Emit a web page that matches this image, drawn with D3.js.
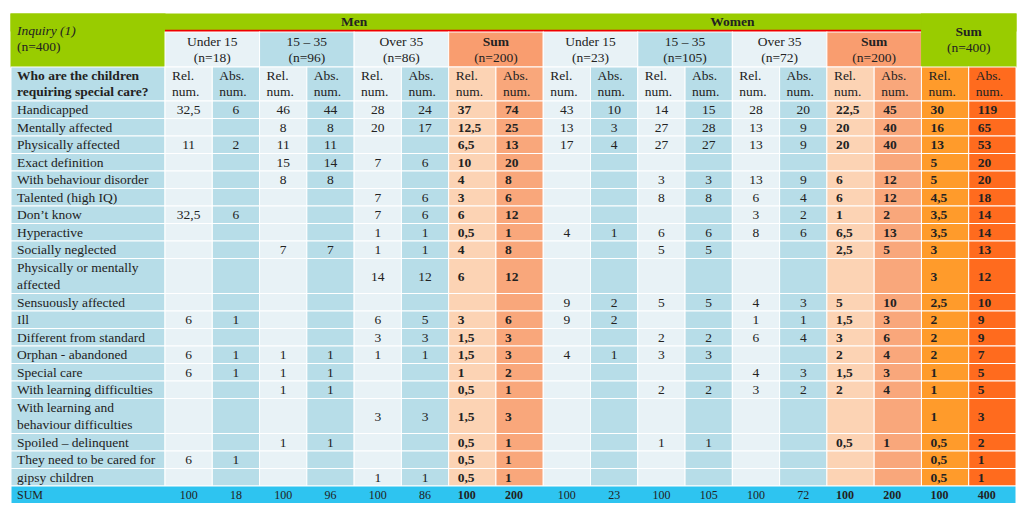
<!DOCTYPE html><html><head><meta charset="utf-8">
<script src="https://cdn.jsdelivr.net/npm/d3@7"></script>
<style>body{margin:0;background:#fff}</style></head><body><svg id="c" width="1024" height="515"></svg>
<script>
const groups = ["Under 15|(n=18)","15 – 35|(n=96)","Over 35|(n=86)","Sum|(n=200)","Under 15|(n=23)","15 – 35|(n=105)","Over 35|(n=72)","Sum|(n=200)","Sum|(n=400)"];
const genders = ["Men","Women"];
const rowLabels = ["Handicapped","Mentally affected","Physically affected","Exact definition","With behaviour disorder","Talented (high IQ)","Don’t know","Hyperactive","Socially neglected","Physically or mentally|affected","Sensuously affected","Ill","Different from standard","Orphan - abandoned","Special care","With learning difficulties","With learning and|behaviour difficulties","Spoiled – delinquent","They need to be cared for","gipsy children"];
const values = [
["32,5","6","46","44","28","24","37","74","43","10","14","15","28","20","22,5","45","30","119"],
["","","8","8","20","17","12,5","25","13","3","27","28","13","9","20","40","16","65"],
["11","2","11","11","","","6,5","13","17","4","27","27","13","9","20","40","13","53"],
["","","15","14","7","6","10","20","","","","","","","","","5","20"],
["","","8","8","","","4","8","","","3","3","13","9","6","12","5","20"],
["","","","","7","6","3","6","","","8","8","6","4","6","12","4,5","18"],
["32,5","6","","","7","6","6","12","","","","","3","2","1","2","3,5","14"],
["","","","","1","1","0,5","1","4","1","6","6","8","6","6,5","13","3,5","14"],
["","","7","7","1","1","4","8","","","5","5","","","2,5","5","3","13"],
["","","","","14","12","6","12","","","","","","","","","3","12"],
["","","","","","","","","9","2","5","5","4","3","5","10","2,5","10"],
["6","1","","","6","5","3","6","9","2","","","1","1","1,5","3","2","9"],
["","","","","3","3","1,5","3","","","2","2","6","4","3","6","2","9"],
["6","1","1","1","1","1","1,5","3","4","1","3","3","","","2","4","2","7"],
["6","1","1","1","","","1","2","","","","","4","3","1,5","3","1","5"],
["","","1","1","","","0,5","1","","","2","2","3","2","2","4","1","5"],
["","","","","3","3","1,5","3","","","","","","","","","1","3"],
["","","1","1","","","0,5","1","","","1","1","","","0,5","1","0,5","2"],
["6","1","","","","","0,5","1","","","","","","","","","0,5","1"],
["","","","","1","1","0,5","1","","","","","","","","","0,5","1"]];
const sumRow = ["100","18","100","96","100","86","100","200","100","23","100","105","100","72","100","200","100","400"];

const svg = d3.select("#c");
const F = "Liberation Serif, Times New Roman, serif";
const x0 = 11, labelW = 154;
const xs = d3.scaleLinear().domain([0,18]).range([x0+labelW, 1016]);
const rowH = 17.5;
const rowTop = []; let yy = 101;
rowLabels.forEach(l => { rowTop.push(yy); yy += l.includes("|") ? 2*rowH : rowH; });
const sumTop = yy;
function colColor(c){ const g=Math.floor(c/2), r=c%2===0;
  if(g===3||g===7) return r?"#fcd3b4":"#f9a77b";
  if(g===8) return r?"#ff9b2b":"#ff6b1e";
  return r?"#e8f2f6":"#b7dde8"; }
function headColor(g){ if(g===3||g===7) return "#f99d6f"; if(g===8) return "#99cc00"; return (g%4===1)?"#b7dde8":"#e8f2f6"; }
const bold = c => { const g=Math.floor(c/2); return g===3||g===7||g===8; };
function cell(x,y,w,h,fill,st){ svg.append("rect").attr("x",x).attr("y",y).attr("width",w).attr("height",h).attr("fill",fill).attr("stroke",st||"#fff").attr("stroke-width",1); }
function txt(x,y,s,o={}){ svg.append("text").attr("x",x).attr("y",y).attr("font-family",F).attr("font-size",o.size||13.5).attr("font-weight",o.b?"bold":"normal").attr("font-style",o.i?"italic":"normal").attr("text-anchor",o.a||"start").attr("fill",o.f||"#222").text(s); }

// top header
cell(x0,14,1016-x0,17,"#99cc00","#99cc00");
cell(x0,14,labelW,53,"#99cc00","#99cc00");
txt(17,35,"Inquiry (1)",{i:true}); txt(17,51,"(n=400)");
genders.forEach((g,i)=>{ txt((xs(i*8)+xs(i*8+8))/2,26,g,{b:true,a:"middle"});
  svg.append("line").attr("x1",xs(i*8)).attr("x2",xs(i*8+8)).attr("y1",31).attr("y2",31).attr("stroke","#e00").attr("stroke-width",2.5); });
groups.forEach((g,i)=>{ const [a,b]=g.split("|"); const top=i===8?14:32; const h=i===8?53:35;
  cell(xs(2*i),top,xs(2*i+2)-xs(2*i),h,headColor(i), i===8?"#99cc00":"#fff");
  const cx=(xs(2*i)+xs(2*i+2))/2, by=i===8?36:46;
  txt(cx,by,a,{a:"middle",b:a==="Sum"}); txt(cx,by+16,b,{a:"middle"}); });
// column header
cell(x0,67,labelW,34,"#b7dde8");
txt(17,80,"Who are the children",{b:true}); txt(17,96,"requiring special care?",{b:true});
for(let c=0;c<18;c++){ cell(xs(c),67,xs(c+1)-xs(c),34,colColor(c));
  txt(xs(c)+7,80,c%2?"Abs.":"Rel."); txt(xs(c)+7,96,"num."); }
// rows
rowLabels.forEach((l,r)=>{ const two=l.includes("|"), h=two?2*rowH:rowH, y=rowTop[r];
  cell(x0,y,labelW,h,"#b7dde8");
  l.split("|").forEach((s,k)=>txt(17,y+13+k*rowH,s));
  values[r].forEach((v,c)=>{ cell(xs(c),y,xs(c+1)-xs(c),h,colColor(c));
    const ty=y+h/2+4.5;
    if(bold(c)) txt(xs(c)+9,ty,v,{b:true}); else txt((xs(c)+xs(c+1))/2,ty,v,{a:"middle"}); });
});
cell(x0,sumTop,1016-x0,rowH,"#2ec4f0");
txt(17,sumTop+13,"SUM",{size:12});
sumRow.forEach((v,c)=>{ if(bold(c)) txt(xs(c)+9,sumTop+13,v,{b:true,size:12}); else txt((xs(c)+xs(c+1))/2,sumTop+13,v,{a:"middle",size:12}); });
</script></body></html>
